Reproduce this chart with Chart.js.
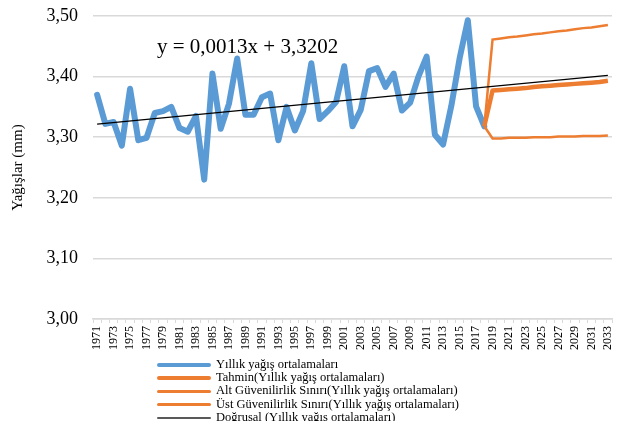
<!DOCTYPE html>
<html>
<head>
<meta charset="utf-8">
<script src="https://cdn.jsdelivr.net/npm/chart.js@4.4.1/dist/chart.umd.min.js"></script>
<style>
  body { margin: 0; background: #fff; }
  #wrap { position: relative; width: 618px; height: 421px; overflow: hidden; }
  #legend { position: absolute; left: 157px; top: 358px; font-family: "Liberation Serif", serif; font-size: 12.5px; color: #000; }
  #legend .item { height: 13.2px; line-height: 13.2px; white-space: nowrap; }
  #legend .line { display: inline-block; width: 54px; vertical-align: middle; margin-right: 5px; border-radius: 2px; }
</style>
</head>
<body>
<div id="wrap">
  <canvas id="myChart" width="618" height="421"></canvas>
  <div id="legend"></div>
</div>
<script>
// years on the axis
const years = [];
for (let y = 1971; y <= 2033; y++) years.push(String(y));

// observed yearly means 1971..2018
const observed = [3.370, 3.322, 3.325, 3.286, 3.380, 3.295, 3.299, 3.340, 3.343, 3.350,
                  3.315, 3.309, 3.335, 3.230, 3.405, 3.314, 3.355, 3.430, 3.337, 3.337,
                  3.366, 3.372, 3.295, 3.350, 3.311, 3.343, 3.422, 3.330, 3.343, 3.358,
                  3.417, 3.318, 3.345, 3.409, 3.414, 3.383, 3.405, 3.344, 3.357, 3.400,
                  3.433, 3.304, 3.288, 3.352, 3.430, 3.493, 3.351, 3.318];

// forecast 2018..2033 (first value joins the observed line)
const forecast = [3.318, 3.377, 3.378, 3.379, 3.380, 3.381, 3.383, 3.384, 3.385, 3.386,
                  3.387, 3.388, 3.389, 3.390, 3.391, 3.393];
const lowerBound = [3.318, 3.298, 3.298, 3.299, 3.299, 3.299, 3.300, 3.300, 3.300, 3.301,
                    3.301, 3.301, 3.302, 3.302, 3.302, 3.303];
const upperBound = [3.318, 3.461, 3.463, 3.465, 3.466, 3.468, 3.470, 3.471, 3.473, 3.475,
                    3.476, 3.478, 3.480, 3.481, 3.483, 3.485];

// linear trend end points (y = 0,0013x + 3,3202)
const trendYears = ['1971', '2033'];
const trendValues = [3.3215, 3.4021];

const yTicks = [3.0, 3.1, 3.2, 3.3, 3.4, 3.5];

const labels = {
    observed: 'Yıllık yağış ortalamaları',
    forecast: 'Tahmin(Yıllık yağış ortalamaları)',
    lower: 'Alt Güvenilirlik Sınırı(Yıllık yağış ortalamaları)',
    upper: 'Üst Güvenilirlik Sınırı(Yıllık yağış ortalamaları)',
    trend: 'Doğrusal (Yıllık yağış ortalamaları)'
};

const BLUE = '#5b9bd5';
const ORANGE = '#ed7d31';
const serif = '"Liberation Serif", "Times New Roman", serif';

const forecastStart = years.indexOf('2018');
function fromYear(values) {
    return values.map((v, i) => ({ x: years[forecastStart + i], y: v }));
}

// equation text on the chart
const equationPlugin = {
    id: 'equation',
    afterDatasetsDraw(chart) {
        const ctx = chart.ctx;
        ctx.save();
        ctx.font = '21px ' + serif;
        ctx.fillStyle = '#000';
        ctx.textBaseline = 'alphabetic';
        ctx.fillText('y = 0,0013x + 3,3202', 157, 53);
        ctx.restore();
    }
};

const ctx = document.getElementById('myChart').getContext('2d');
const chart = new Chart(ctx, {
    type: 'line',
    data: {
        labels: years,
        datasets: [
            {
                label: labels.observed,
                data: observed,
                borderColor: BLUE,
                borderWidth: 6,
                pointRadius: 0,
                borderJoinStyle: 'round',
                borderCapStyle: 'round',
                order: 3
            },
            {
                label: labels.forecast,
                data: fromYear(forecast),
                borderColor: ORANGE,
                borderWidth: 4.5,
                pointRadius: 0,
                borderJoinStyle: 'round',
                order: 2
            },
            {
                label: labels.lower,
                data: fromYear(lowerBound),
                borderColor: ORANGE,
                borderWidth: 2.5,
                pointRadius: 0,
                order: 2
            },
            {
                label: labels.upper,
                data: fromYear(upperBound),
                borderColor: ORANGE,
                borderWidth: 2.5,
                pointRadius: 0,
                order: 2
            },
            {
                label: labels.trend,
                data: trendYears.map((x, i) => ({ x: x, y: trendValues[i] })),
                borderColor: '#000',
                borderWidth: 1.3,
                pointRadius: 0,
                order: 0
            }
        ]
    },
    options: {
        responsive: false,
        animation: false,
        layout: { padding: { left: 0, right: 6, top: 16, bottom: 0 } },
        plugins: {
            legend: { display: false },
            tooltip: { enabled: false }
        },
        scales: {
            x: {
                type: 'category',
                offset: true,
                grid: {
                    offset: true,
                    drawOnChartArea: false,
                    drawTicks: true,
                    tickLength: 4,
                    color: '#d9d9d9',
                    lineWidth: 1
                },
                border: { color: '#d9d9d9', width: 1.5 },
                ticks: {
                    autoSkip: false,
                    maxRotation: 90,
                    minRotation: 90,
                    padding: 3,
                    color: '#000',
                    font: { family: serif, size: 12 },
                    callback: function (val, i) {
                        return i % 2 === 0 ? years[i] : '';
                    }
                },
                afterFit: function (scale) {
                    scale.height = 102;
                    scale.paddingLeft = 0;
                    scale.paddingRight = 0;
                }
            },
            y: {
                min: 3.0,
                max: 3.5,
                grid: { color: '#d9d9d9', lineWidth: 1.5, drawTicks: false },
                border: { display: false },
                afterBuildTicks: function (scale) {
                    scale.ticks = yTicks.map(v => ({ value: v }));
                },
                ticks: {
                    padding: 15,
                    color: '#000',
                    font: { family: serif, size: 18 },
                    callback: function (v) { return v.toFixed(2).replace('.', ','); }
                },
                title: {
                    display: true,
                    text: 'Yağışlar (mm)',
                    color: '#000',
                    font: { family: serif, size: 15 },
                    padding: { top: 9, bottom: 0 }
                },
                afterFit: function (scale) {
                    scale.width = 93;
                    scale.paddingTop = 0;
                    scale.paddingBottom = 0;
                }
            }
        }
    },
    plugins: [equationPlugin]
});

// legend below the chart, one item per row
const legendStyles = [
    { text: labels.observed, color: BLUE, h: 4 },
    { text: labels.forecast, color: ORANGE, h: 4 },
    { text: labels.lower, color: ORANGE, h: 2.5 },
    { text: labels.upper, color: ORANGE, h: 2.5 },
    { text: labels.trend, color: '#595959', h: 2.5 }
];
const legendEl = document.getElementById('legend');
legendStyles.forEach(function (it) {
    const row = document.createElement('div');
    row.className = 'item';
    const line = document.createElement('span');
    line.className = 'line';
    line.style.height = it.h + 'px';
    line.style.background = it.color;
    const txt = document.createElement('span');
    txt.textContent = it.text;
    row.appendChild(line);
    row.appendChild(txt);
    legendEl.appendChild(row);
});
</script>
</body>
</html>
